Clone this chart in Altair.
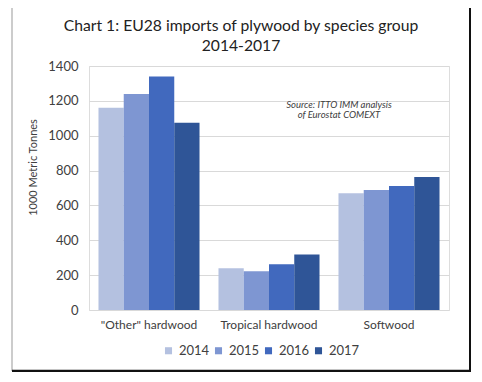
import altair as alt
import pandas as pd

species = ['"Other" hardwood', "Tropical hardwood", "Softwood"]
years = ["2014", "2015", "2016", "2017"]
v2014 = [1160, 240, 670]
v2015 = [1240, 222, 688]
v2016 = [1340, 262, 712]
v2017 = [1075, 318, 763]
colors = ["#B4C1E0", "#7E96D2", "#4169BE", "#2F5597"]
y_ticks = [0, 200, 400, 600, 800, 1000, 1200, 1400]
title_lines = ["Chart 1: EU28 imports of plywood by species group", "2014-2017"]
source_lines = ["Source: ITTO IMM analysis", "of Eurostat COMEXT"]

rows = []
for yr, vals in zip(years, [v2014, v2015, v2016, v2017]):
    for sp, v in zip(species, vals):
        rows.append({"species": sp, "year": yr, "value": v})
df = pd.DataFrame(rows)

FONT = "Lato"

bars = alt.Chart(df).mark_bar().encode(
    x=alt.X("species:N", sort=species,
            scale=alt.Scale(paddingInner=0.158, paddingOuter=0.079),
            axis=alt.Axis(title=None, labelAngle=0, domain=False, ticks=False,
                          labelFont=FONT, labelFontSize=12, labelColor="#404040",
                          labelPadding=9)),
    xOffset=alt.XOffset("year:N", sort=years, scale=alt.Scale(paddingInner=0, paddingOuter=0)),
    y=alt.Y("value:Q", scale=alt.Scale(domain=[0, 1400], nice=False),
            axis=alt.Axis(values=y_ticks, format="d", title="1000 Metric Tonnes", domain=False, ticks=False,
                          labelFont=FONT, labelFontSize=13, labelColor="#404040",
                          labelPadding=11, gridColor="#D9D9D9",
                          titleFont=FONT, titleFontSize=11, titleFontWeight="normal",
                          titleColor="#404040", titleX=-56, titleY=101,
                          titleAngle=-90, titleAlign="center", titleBaseline="middle")),
    color=alt.Color("year:N", sort=years,
                    scale=alt.Scale(domain=years, range=colors),
                    legend=alt.Legend(title=None, orient="none", direction="horizontal",
                                      legendX=73, legendY=278,
                                      symbolType="square", symbolSize=50,
                                      symbolStrokeWidth=0,
                                      labelFont=FONT, labelFontSize=13, labelColor="#404040",
                                      columnPadding=2, labelOffset=4)),
)

source = alt.Chart(pd.DataFrame({"t": source_lines, "yy": [39, 49]})).mark_text(
    font=FONT, fontSize=9.5, fontStyle="italic", color="#404040", align="center", baseline="middle"
).encode(x=alt.value(250), y=alt.Y("yy:Q", scale=None), text="t:N")

title = alt.Chart(pd.DataFrame({"t": title_lines, "yy": [-40, -20]})).mark_text(
    font=FONT, fontSize=15.7, color="#222222", align="center", baseline="middle"
).encode(x=alt.value(152), y=alt.Y("yy:Q", scale=None), text="t:N")

frame_left = alt.Chart(pd.DataFrame({"a": [0]})).mark_rule(color="#999999", strokeWidth=1).encode(
    x=alt.value(-77), y=alt.value(-61), y2=alt.value(305))
frame_top = alt.Chart(pd.DataFrame({"a": [0]})).mark_rule(color="#333333", strokeWidth=1.5).encode(
    x=alt.value(-77), x2=alt.value(381), y=alt.value(-61))
frame_right = alt.Chart(pd.DataFrame({"a": [0]})).mark_rule(color="#111111", strokeWidth=2).encode(
    x=alt.value(381), y=alt.value(-61), y2=alt.value(305))
frame_bottom = alt.Chart(pd.DataFrame({"a": [0]})).mark_rule(color="#111111", strokeWidth=2.5).encode(
    x=alt.value(-77), x2=alt.value(382), y=alt.value(305))

chart = alt.layer(bars, source, title, frame_left, frame_top, frame_right, frame_bottom).properties(
    width=360, height=244,
    autosize=alt.AutoSizeParams(type="none"),
    padding={"left": 81, "top": 58, "right": 25, "bottom": 62},
).configure_view(stroke=None).configure(background="white")

chart.save("out.html", embed_options={"renderer": "svg", "actions": False})
